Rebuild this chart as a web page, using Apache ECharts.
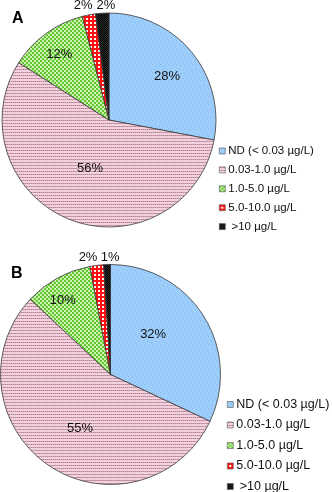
<!DOCTYPE html>
<html><head><meta charset="utf-8">
<script src="https://cdn.jsdelivr.net/npm/echarts@6/dist/echarts.min.js"></script>
<style>html,body{margin:0;padding:0;background:#fff}#c{width:332px;height:492px}</style>
</head><body><div id="c"></div>
<script>
const categories = ['ND (< 0.03 µg/L)', '0.03-1.0 µg/L', '1.0-5.0 µg/L', '5.0-10.0 µg/L', '>10 µg/L'];
const valuesA = [28, 56, 12, 2, 2];
const valuesB = [32, 55, 10, 2, 1];
const panelTitles = ['A', 'B'];

function makePattern(w, h, fn) {
  const cv = document.createElement('canvas');
  cv.width = w; cv.height = h;
  const ctx = cv.getContext('2d');
  for (let y = 0; y < h; y++) for (let x = 0; x < w; x++) {
    ctx.fillStyle = fn(x, y); ctx.fillRect(x, y, 1, 1);
  }
  return { image: cv, repeat: 'repeat' };
}
const fills = [
  makePattern(8, 8, (x, y) => ((x * 3 + y * 5) % 17 === 0) ? '#86b8ec' : '#9dcdfb'),
  makePattern(4, 3, (x, y) => y === 0 ? ((x % 2) ? '#b48494' : '#d4a2b4') : '#f2d2df'),
  makePattern(4, 4, (x, y) => (((x >> 1) + (y >> 1)) % 2) ? '#cdf2b0' : '#62c832'),
  makePattern(4, 4, (x, y) => ((x % 4 < 2) || (y % 4 < 2)) ? '#ff1010' : '#ffffff'),
  makePattern(2, 2, (x, y) => ((x + y) % 2) ? '#2a2a2a' : '#050505')
];

function buildData(vals) {
  return categories.map((n, i) => ({ name: n, value: vals[i], itemStyle: { color: fills[i] } }));
}

const geom = [
  { cx: 109, cy: 120, r: 107, frac: [0.68, 0.49, 0.77, 1.10, 1.075], dAng: [2.4, -0.4, -1.1, -1.9, 2.1] },
  { cx: 110.5, cy: 374.5, r: 110, frac: [0.53, 0.56, 0.80, 1.08, 1.06], dAng: [-10.6, -4.5, -4.1, -3.7, 1.6] }
];
const allVals = [valuesA, valuesB];

function labelPos(s, idx) {
  const vals = allVals[s];
  const tot = vals.reduce((a, b) => a + b, 0);
  let cum = 0;
  for (let i = 0; i < idx; i++) cum += vals[i];
  const mid = (cum + vals[idx] / 2) / tot * 360 + geom[s].dAng[idx];
  const a = mid * Math.PI / 180;
  const rr = geom[s].r * geom[s].frac[idx];
  return { x: geom[s].cx + rr * Math.sin(a), y: geom[s].cy - rr * Math.cos(a) };
}

function pieSeries(s, vals) {
  const g = geom[s];
  return {
    type: 'pie',
    center: [g.cx, g.cy],
    radius: [0, g.r],
    startAngle: 90,
    clockwise: true,
    avoidLabelOverlap: false,
    animation: false,
    silent: true,
    data: buildData(vals),
    itemStyle: { borderColor: '#3a3a3a', borderWidth: 0.8 },
    label: {
      show: true, position: 'inside',
      formatter: '{c}%',
      fontFamily: 'Liberation Sans, Arial, sans-serif',
      fontSize: 13, color: '#111'
    },
    labelLine: { show: false },
    labelLayout: function (p) {
      const pt = labelPos(s, p.dataIndex);
      return { x: pt.x, y: pt.y, align: 'center', verticalAlign: 'middle' };
    }
  };
}

const legendFormatter = name => name.charAt(0) === '>' ? ' ' + name : name;

const chart = echarts.init(document.getElementById('c'), null, { renderer: 'canvas' });
chart.setOption({
  backgroundColor: '#fff',
  title: [
    { text: panelTitles[0], left: 12, top: 11, padding: 0, textStyle: { fontFamily: 'Liberation Sans, Arial, sans-serif', fontSize: 16, fontWeight: 'bold', color: '#000' } },
    { text: panelTitles[1], left: 11, top: 266, padding: 0, textStyle: { fontFamily: 'Liberation Sans, Arial, sans-serif', fontSize: 16, fontWeight: 'bold', color: '#000' } }
  ],
  legend: [
    {
      seriesIndex: 0, data: categories, orient: 'vertical', left: 219, top: 145, padding: 0, height: 120,
      icon: 'rect', itemWidth: 6, itemHeight: 6, itemGap: 6.9,
      selectedMode: false, formatter: legendFormatter,
      itemStyle: { borderColor: '#555', borderWidth: 0.6 },
      textStyle: { fontFamily: 'Liberation Sans, Arial, sans-serif', fontSize: 11.5, color: '#111', lineHeight: 12, padding: [0, 0, 0, -2] }
    },
    {
      seriesIndex: 1, data: categories, orient: 'vertical', left: 227, top: 398, padding: 0, height: 120,
      icon: 'rect', itemWidth: 6, itemHeight: 6, itemGap: 7.5,
      selectedMode: false, formatter: legendFormatter,
      itemStyle: { borderColor: '#555', borderWidth: 0.6 },
      textStyle: { fontFamily: 'Liberation Sans, Arial, sans-serif', fontSize: 12.5, color: '#111', lineHeight: 12, padding: [0, 0, 0, -2] }
    }
  ],
  series: [pieSeries(0, valuesA), pieSeries(1, valuesB)]
});
</script>
</body></html>
